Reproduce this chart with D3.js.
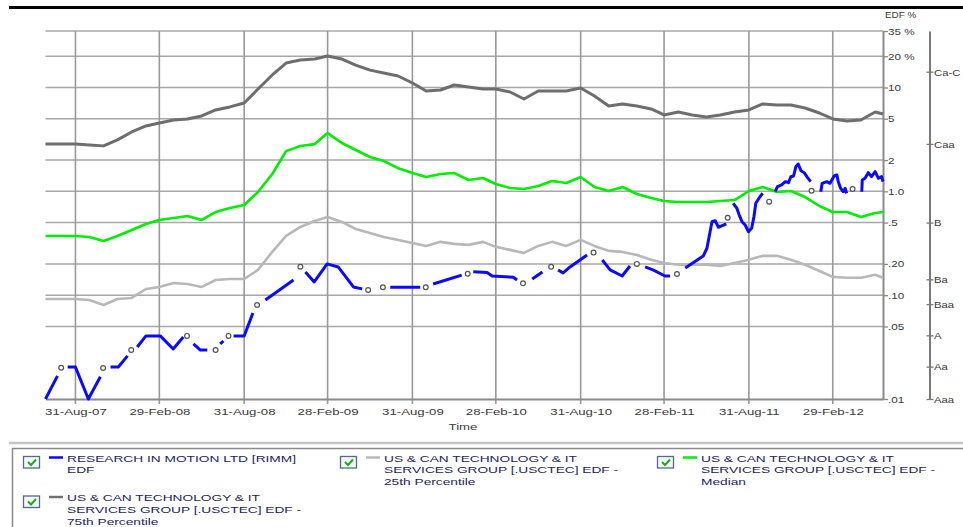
<!DOCTYPE html>
<html><head><meta charset="utf-8">
<script src="https://cdn.jsdelivr.net/npm/d3@7"></script>
<style>
body{margin:0;background:#fff;}
svg{display:block;font-family:"Liberation Sans",Arial,sans-serif;}
</style></head><body>
<svg id="c" width="963" height="527"></svg>
<script>
// ---------- DATA ----------
const monthDates = ["2007-06-27","2007-07-31","2007-08-31","2007-09-30","2007-10-31","2007-11-30","2007-12-31",
"2008-01-31","2008-02-29","2008-03-31","2008-04-30","2008-05-31","2008-06-30","2008-07-31","2008-08-31","2008-09-30","2008-10-31","2008-11-30","2008-12-31",
"2009-01-31","2009-02-28","2009-03-31","2009-04-30","2009-05-31","2009-06-30","2009-07-31","2009-08-31","2009-09-30","2009-10-31","2009-11-30","2009-12-31",
"2010-01-31","2010-02-28","2010-03-31","2010-04-30","2010-05-31","2010-06-30","2010-07-31","2010-08-31","2010-09-30","2010-10-31","2010-11-30","2010-12-31",
"2011-01-31","2011-02-28","2011-03-31","2011-04-30","2011-05-31","2011-06-30","2011-07-31","2011-08-31","2011-09-30","2011-10-31","2011-11-30","2011-12-31",
"2012-01-31","2012-02-29","2012-03-31","2012-04-30","2012-05-31","2012-06-17"];

const pct75 = [2.86,2.86,2.86,2.80,2.74,3.13,3.73,4.26,4.55,4.87,4.98,5.32,6.08,6.50,7.10,9.67,13.2,17.2,18.4,18.8,20.1,
18.8,16.4,14.7,13.8,12.9,11.05,9.25,9.46,10.57,10.1,9.67,9.67,9.05,7.75,9.25,9.25,9.25,9.89,8.28,6.63,6.94,6.63,
6.22,5.44,5.81,5.44,5.20,5.44,5.81,6.08,6.94,6.79,6.79,6.35,5.68,4.98,4.76,4.87,5.81,5.56];

const median = [0.371,0.371,0.371,0.363,0.332,0.371,0.424,0.485,0.530,0.553,0.579,0.530,0.632,0.691,0.739,0.985,1.468,2.44,2.73,2.85,3.64,
2.92,2.50,2.14,1.96,1.67,1.50,1.373,1.468,1.50,1.285,1.343,1.176,1.076,1.052,1.125,1.256,1.202,1.373,1.100,1.007,1.100,0.942,
0.862,0.806,0.789,0.789,0.789,0.806,0.824,1.007,1.100,0.985,1.007,0.881,0.722,0.632,0.632,0.566,0.619,0.632];

const pct25 = [0.0919,0.0919,0.0919,0.0899,0.0804,0.0919,0.094,0.1147,0.120,0.131,0.128,0.120,0.140,0.143,0.143,0.175,0.261,0.372,0.454,0.518,0.566,
0.507,0.434,0.397,0.363,0.340,0.318,0.298,0.326,0.312,0.305,0.326,0.292,0.273,0.255,0.298,0.326,0.298,0.341,0.298,0.267,0.261,0.244,
0.219,0.204,0.196,0.196,0.196,0.191,0.204,0.219,0.239,0.239,0.219,0.196,0.171,0.150,0.147,0.147,0.157,0.147];

// RIMM EDF (null = no data, gap in the line)
const rimmDates = ["2007-06-27","2007-07-23","2007-07-31",
"2007-08-14","2007-08-31","2007-09-28","2007-10-24","2007-10-30",
"2007-11-15","2007-12-02","2007-12-22","2007-12-30",
"2008-01-12","2008-01-31","2008-03-02","2008-03-30","2008-04-21","2008-04-29",
"2008-05-13","2008-05-28","2008-06-12","2008-06-30",
"2008-07-10","2008-07-17","2008-07-28",
"2008-08-08","2008-08-31","2008-09-19","2008-09-28",
"2008-10-16","2008-12-16","2008-12-31",
"2009-01-11","2009-01-30","2009-02-27","2009-03-23","2009-04-25","2009-05-14","2009-05-27",
"2009-07-14","2009-09-17","2009-09-29",
"2009-10-15","2009-12-16","2009-12-29",
"2010-01-10","2010-02-09","2010-02-20","2010-04-07","2010-04-15","2010-04-28",
"2010-05-18","2010-06-09","2010-06-28",
"2010-07-13","2010-07-24","2010-08-08","2010-09-14","2010-09-28",
"2010-10-17","2010-11-03","2010-11-29","2010-12-16","2010-12-31",
"2011-01-18","2011-02-04","2011-03-02","2011-03-13","2011-03-28",
"2011-04-15","2011-05-24","2011-06-01","2011-06-12","2011-06-19","2011-06-26","2011-07-03","2011-07-13","2011-07-16",
"2011-07-28","2011-08-05","2011-08-10","2011-08-16","2011-08-23","2011-08-30","2011-09-06","2011-09-11","2011-09-15","2011-09-24","2011-09-30","2011-10-14",
"2011-10-27","2011-11-01","2011-11-10","2011-11-18","2011-11-25","2011-11-30","2011-12-06","2011-12-11","2011-12-16","2011-12-22","2011-12-29","2012-01-05","2012-01-12","2012-01-14",
"2012-02-03","2012-02-06","2012-02-16","2012-02-23","2012-03-03","2012-03-09","2012-03-12","2012-03-17","2012-03-23","2012-03-27","2012-03-30","2012-04-12",
"2012-05-02","2012-05-03","2012-05-09","2012-05-16","2012-05-23","2012-05-31","2012-06-07","2012-06-14","2012-06-17"];
const rimmValues = [0.01,0.0167,null,
0.0203,0.0203,0.01,0.0164,null,
0.0203,0.0203,0.026,null,
0.0317,0.0405,0.0405,0.0303,0.0396,null,
0.0339,0.0296,0.0296,null,
0.0339,0.0362,null,
0.0405,0.0405,0.0673,null,
0.0898,0.140,null,
0.167,0.134,0.200,0.187,0.120,0.115,null,
0.119,0.119,null,
0.128,0.156,null,
0.168,0.165,0.153,0.149,0.140,null,
0.143,0.167,null,
0.175,0.164,0.187,0.244,null,
0.218,0.175,0.153,0.191,null,
0.187,0.175,0.153,0.153,null,
0.183,0.238,0.283,0.510,0.521,0.451,0.464,0.485,null,
0.767,0.687,0.592,0.510,0.474,0.409,0.441,0.570,0.767,0.888,0.957,null,
0.992,1.108,1.151,1.239,1.211,1.384,1.405,1.727,1.834,1.581,1.512,1.365,1.239,null,
0.992,1.195,1.239,1.195,1.405,1.437,1.239,1.070,0.992,1.070,0.957,null,
0.992,1.286,1.336,1.512,1.384,1.546,1.336,1.384,1.239];

// open-circle markers on the RIMM series
const markerDates = ["2007-07-31","2007-10-30","2007-12-30","2008-04-29","2008-06-30","2008-07-28","2008-09-28","2008-12-31",
"2009-05-27","2009-06-28","2009-09-29","2009-12-29","2010-04-28","2010-06-28","2010-09-28","2010-12-31","2011-03-28",
"2011-07-16","2011-10-14","2012-01-14","2012-04-12"];
const markerValues = [0.0200,0.0199,0.0296,0.0405,0.0296,0.0405,0.0804,0.188,
0.112,0.119,0.119,0.161,0.130,0.188,0.257,0.200,0.160,
0.557,0.795,1.014,1.053];

const yTicks = [35,20,10,5,2,1,0.5,0.2,0.1,0.05,0.01];
const yTickLabels = ["35 %","20 %","10","5","2","1.0",".5",".20",".10",".05",".01"];
const xTickDates = ["2007-08-31","2008-02-29","2008-08-31","2009-02-28","2009-08-31","2010-02-28","2010-08-31","2011-02-28","2011-08-31","2012-02-29"];
const xTickLabels = ["31-Aug-07","29-Feb-08","31-Aug-08","28-Feb-09","31-Aug-09","28-Feb-10","31-Aug-10","28-Feb-11","31-Aug-11","29-Feb-12"];
const ratingNames = ["Ca-C","Caa","B","Ba","Baa","A","Aa","Aaa"];
const ratingEdf = [14.2,2.86,0.5,0.142,0.082,0.041,0.0205,0.01];

const legendItems = [
  {lines:["RESEARCH IN MOTION LTD [RIMM]","EDF"], color:"#0a0aff"},
  {lines:["US & CAN TECHNOLOGY & IT","SERVICES GROUP [.USCTEC] EDF -","25th Percentile"], color:"#b8b8b8"},
  {lines:["US & CAN TECHNOLOGY & IT","SERVICES GROUP [.USCTEC] EDF -","Median"], color:"#00ee00"},
  {lines:["US & CAN TECHNOLOGY & IT","SERVICES GROUP [.USCTEC] EDF -","75th Percentile"], color:"#707070"}
];

// ---------- DRAW ----------
const svg = d3.select("#c");
const parse = d3.timeParse("%Y-%m-%d");
const L = 45.5, R = 883, T = 31, B = 399;
const x = d3.scaleTime().domain([parse("2007-06-27"), parse("2012-06-17")]).range([L, R]);
const y = d3.scaleLog().domain([0.01, 35]).range([B, T]);
const FONT = "'Liberation Sans', Arial, sans-serif";

// top frame line
svg.append("line").attr("x1",9).attr("x2",963).attr("y1",7.5).attr("y2",7.5)
  .attr("stroke","#000").attr("stroke-width",3);

// grid
const grid = svg.append("g");
grid.selectAll("line.h").data(yTicks.filter(d=>d>0.01)).join("line").attr("class","h")
  .attr("x1",L).attr("x2",R).attr("y1",d=>y(d)).attr("y2",d=>y(d))
  .attr("stroke","#a8a8a8").attr("stroke-width",1.5);
grid.selectAll("line.v").data(xTickDates.map(parse)).join("line").attr("class","v")
  .attr("x1",d=>x(d)).attr("x2",d=>x(d)).attr("y1",T).attr("y2",B+5)
  .attr("stroke","#999").attr("stroke-width",1.6);

// x axis
const gx = svg.append("g").attr("transform",`translate(0,${B})`)
  .call(d3.axisBottom(x).tickValues(xTickDates.map(parse)).tickFormat((d,i)=>xTickLabels[i]).tickSize(0));
gx.attr("font-family",FONT).attr("font-size",9.8);
gx.select(".domain").attr("stroke","#8a8a8a").attr("stroke-width",2);
gx.selectAll("text").attr("y",null).attr("dy",null).attr("fill","#3a3a3a")
  .attr("transform","translate(0,15.5) scale(1.35,1)");

svg.append("text").attr("transform","translate(463,430) scale(1.35,1)")
  .attr("text-anchor","middle").attr("font-family",FONT).attr("font-size",9.8).attr("fill","#3a3a3a").text("Time");

// right EDF axis
const gy = svg.append("g").attr("transform",`translate(${R},0)`)
  .call(d3.axisRight(y).tickValues(yTicks).tickFormat((d,i)=>yTickLabels[i]).tickSize(5).tickSizeOuter(0));
gy.attr("font-family",FONT).attr("font-size",9);
gy.select(".domain").attr("stroke","#8a8a8a").attr("stroke-width",2);
gy.selectAll(".tick line").attr("stroke","#8a8a8a").attr("stroke-width",1.3);
gy.selectAll("text").attr("x",null).attr("dy","0.34em").attr("fill","#3a3a3a")
  .attr("transform","translate(5,0) scale(1.3,1)");
svg.append("text").attr("transform","translate(885,18) scale(1.15,1)")
  .attr("font-family",FONT).attr("font-size",8.6).attr("fill","#3a3a3a").text("EDF  %");

// ratings axis
const gr = svg.append("g").attr("transform","translate(929.5,0)")
  .call(d3.axisRight(y).tickValues(ratingEdf).tickFormat((d,i)=>ratingNames[i]).tickSize(4).tickSizeOuter(0));
gr.attr("font-family",FONT).attr("font-size",9.8);
gr.select(".domain").attr("stroke","#7a7a7a").attr("stroke-width",2);
gr.selectAll(".tick line").attr("x1",-3).attr("stroke","#7a7a7a").attr("stroke-width",1.3);
gr.selectAll("text").attr("x",null).attr("dy","0.34em").attr("fill","#3a3a3a")
  .attr("transform","translate(4.5,0) scale(1.15,1)");

// series
const monthX = monthDates.map(parse);
const line = d3.line().x(d=>x(d[0])).y(d=>y(d[1]));
const plot = svg.append("g");
function drawSeries(vals, color, w){
  plot.append("path").datum(monthX.map((d,i)=>[d, vals[i]]))
    .attr("fill","none").attr("stroke",color).attr("stroke-width",w)
    .attr("stroke-linejoin","round").attr("d",line);
}
drawSeries(pct75, "#6e6e6e", 3);
drawSeries(pct25, "#b8b8b8", 2.6);
drawSeries(median, "#00ee00", 2.6);

const rimmLine = d3.line().defined(d=>d[1]!=null).x(d=>x(d[0])).y(d=>y(d[1]));
plot.append("path").datum(rimmDates.map((d,i)=>[parse(d), rimmValues[i]]))
  .attr("fill","none").attr("stroke","#0a0aff").attr("stroke-width",3)
  .attr("stroke-linejoin","round").attr("d",rimmLine);
plot.selectAll("circle.mk").data(markerDates.map((d,i)=>[parse(d), markerValues[i]])).join("circle")
  .attr("class","mk").attr("cx",d=>x(d[0])).attr("cy",d=>y(d[1])).attr("r",2.4)
  .attr("fill","#fff").attr("stroke","#555").attr("stroke-width",1.2);

// legend
svg.append("line").attr("x1",9).attr("x2",963).attr("y1",443).attr("y2",443)
  .attr("stroke","#c4c4c4").attr("stroke-width",2.5);
svg.append("rect").attr("x",12.5).attr("y",448.5).attr("width",1000).attr("height",200)
  .attr("fill","none").attr("stroke","#8a8a8a").attr("stroke-width",1.5);
const cols = [23, 340, 657], rows = [456, 495.5];
const pos = [[0,0],[1,0],[2,0],[0,1]];
legendItems.forEach((it, i)=>{
  const cx = cols[pos[i][0]], ry = rows[pos[i][1]];
  const g = svg.append("g").attr("font-family",FONT).attr("font-size",9.6);
  g.append("rect").attr("x",cx+0.5).attr("y",ry+0.5).attr("width",16).attr("height",11.5)
    .attr("fill","#f6f9f6").attr("stroke","#4f6d88").attr("stroke-width",1.3);
  g.append("path").attr("d",`M${cx+5},${ry+6} l3,3 l5,-5.5`).attr("fill","none")
    .attr("stroke","#1fa81f").attr("stroke-width",2);
  g.append("line").attr("x1",cx+26).attr("x2",cx+40).attr("y1",ry+1.5).attr("y2",ry+1.5)
    .attr("stroke",it.color).attr("stroke-width",2.5);
  it.lines.forEach((t,j)=>{
    g.append("text").attr("transform",`translate(${cx+44},${ry+5.5+j*11.8}) scale(1.43,1)`)
      .attr("fill","#25255a").text(t);
  });
});
</script>
</body></html>
